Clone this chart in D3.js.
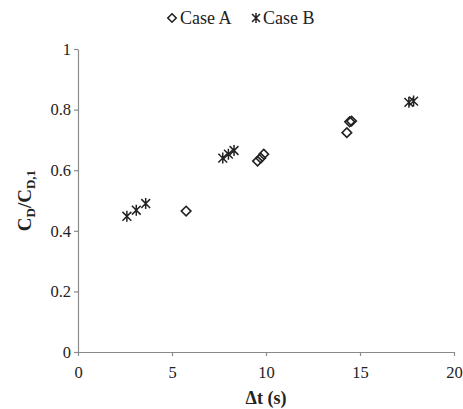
<!DOCTYPE html>
<html>
<head>
<meta charset="utf-8">
<script src="https://cdn.jsdelivr.net/npm/d3@7"></script>
<style>
  html, body { margin: 0; padding: 0; background: #fff; }
  svg { display: block; }
  svg text { font-family: 'Liberation Serif', 'DejaVu Serif', 'Times New Roman', Times, serif !important; fill: #222; }
</style>
</head>
<body>
<svg id="chart" width="463" height="409"></svg>
<script>
// Data
const caseA_x = [5.75, 9.55, 9.72, 9.88, 14.3, 14.45, 14.55];
const caseA_y = [0.465, 0.63, 0.64, 0.653, 0.724, 0.76, 0.762];
const caseB_x = [2.6, 3.1, 3.6, 7.7, 8.0, 8.3, 17.6, 17.85];
const caseB_y = [0.448, 0.468, 0.49, 0.64, 0.653, 0.665, 0.824, 0.828];
const xTicks = [0, 5, 10, 15, 20];
const yTicks = [0, 0.2, 0.4, 0.6, 0.8, 1];
const seriesNames = ["Case A", "Case B"];

const svg = d3.select("#chart");
const x = d3.scaleLinear().domain([0, 20]).range([78, 454]);
const y = d3.scaleLinear().domain([0, 1]).range([352, 49]);
const axisColor = "#8a8a8a";

// X axis
const gx = svg.append("g").attr("transform", `translate(0,${y(0)})`)
  .call(d3.axisBottom(x).tickValues(xTicks).tickFormat(d3.format("d")).tickSize(4).tickSizeOuter(0));
gx.attr("font-family", null);
gx.select(".domain").attr("stroke", axisColor).attr("stroke-width", 1.2);
gx.selectAll(".tick line").attr("stroke", axisColor).attr("stroke-width", 1.2);
gx.selectAll(".tick text").attr("font-size", 16.5).attr("fill", "#222").attr("dy", "1.15em");

// Y axis
const gy = svg.append("g").attr("transform", `translate(${x(0)},0)`)
  .call(d3.axisLeft(y).tickValues(yTicks).tickFormat(d => d === 0 || d === 1 ? d3.format("d")(d) : d3.format(".1f")(d)).tickSize(4).tickSizeOuter(0));
gy.attr("font-family", null);
gy.select(".domain").attr("stroke", axisColor).attr("stroke-width", 1.2);
gy.selectAll(".tick line").attr("stroke", axisColor).attr("stroke-width", 1.2);
gy.selectAll(".tick text").attr("font-size", 16.5).attr("fill", "#222").attr("x", -7);

// Axis titles
svg.append("text").attr("x", (x(0) + x(20)) / 2).attr("y", 404)
  .attr("text-anchor", "middle").attr("font-size", 18).attr("font-weight", "bold").text("Δt (s)");

const yt = svg.append("text").attr("transform", `translate(31,${(y(0)+y(1))/2 + 0}) rotate(-90)`)
  .attr("text-anchor", "middle").attr("font-size", 19).attr("font-weight", "bold");
yt.append("tspan").text("C");
yt.append("tspan").attr("font-size", 13).attr("dy", 4).text("D");
yt.append("tspan").attr("dy", -4).text("/C");
yt.append("tspan").attr("font-size", 13).attr("dy", 4).text("D,1");

// Markers
const diamond = (g, cx, cy, r) => g.append("path")
  .attr("d", `M${cx},${cy - r}L${cx + r},${cy}L${cx},${cy + r}L${cx - r},${cy}Z`)
  .attr("fill", "none").attr("stroke", "#222").attr("stroke-width", 1.6);
const star = (g, cx, cy, r) => {
  const d = r * 0.8;
  g.append("path")
    .attr("d", `M${cx - d},${cy - d}L${cx + d},${cy + d}M${cx - d},${cy + d}L${cx + d},${cy - d}M${cx},${cy - r}L${cx},${cy + r}`)
    .attr("stroke", "#222").attr("stroke-width", 1.5).attr("fill", "none");
};

const pts = svg.append("g");
caseA_x.forEach((v, i) => diamond(pts, x(v), y(caseA_y[i]), 4.8));
caseB_x.forEach((v, i) => star(pts, x(v), y(caseB_y[i]), 5.5));

// Legend
const lg = svg.append("g");
diamond(lg, 172, 18, 4.2);
lg.append("text").attr("x", 180).attr("y", 24).attr("font-size", 18).text(seriesNames[0]);
star(lg, 256, 18, 5);
lg.append("text").attr("x", 263).attr("y", 24).attr("font-size", 18).text(seriesNames[1]);
</script>
</body>
</html>
